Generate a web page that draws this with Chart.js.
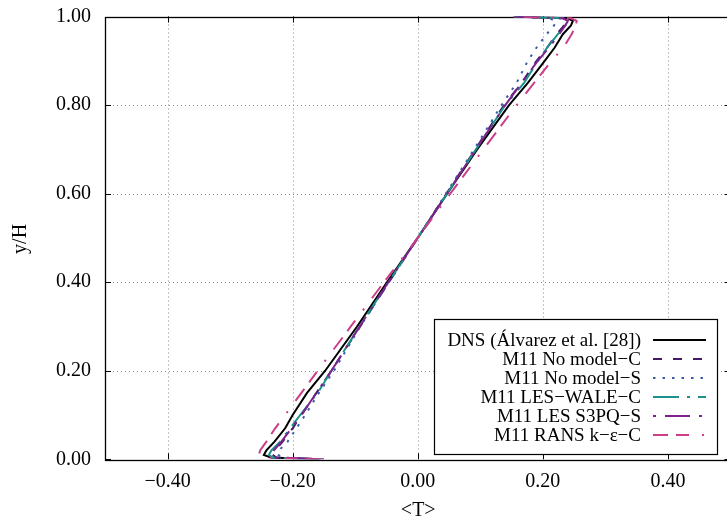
<!DOCTYPE html>
<html>
<head>
<meta charset="utf-8">
<script src="https://cdn.jsdelivr.net/npm/chart.js@4/dist/chart.umd.min.js"></script>
<style>
html,body{margin:0;padding:0;background:#fff;overflow:hidden;}
#wrap{position:relative;width:745px;height:523px;}
</style>
</head>
<body>
<div id="wrap"><canvas id="c" width="745" height="523"></canvas></div>
<script>
// ---- data ----
const yPos = [0, 0.004, 0.01, 0.02, 0.04, 0.07, 0.1, 0.15, 0.2, 0.3, 0.4, 0.5, 0.6, 0.7, 0.8, 0.85, 0.9, 0.93, 0.96, 0.98, 0.99, 0.996, 1.0];
const tDNS      = [-0.160,-0.235,-0.246,-0.242,-0.229,-0.212,-0.200,-0.177,-0.148,-0.097,-0.049,0.000,0.047,0.095,0.146,0.176,0.203,0.219,0.232,0.245,0.248,0.240,0.155];
const tNoModelC = [-0.155,-0.226,-0.232,-0.228,-0.216,-0.200,-0.186,-0.162,-0.138,-0.092,-0.046,0.000,0.046,0.092,0.138,0.166,0.190,0.207,0.222,0.234,0.238,0.232,0.155];
const tNoModelS = [-0.160,-0.215,-0.224,-0.222,-0.208,-0.194,-0.180,-0.158,-0.134,-0.092,-0.046,0.000,0.045,0.090,0.134,0.158,0.176,0.190,0.206,0.218,0.221,0.210,0.160];
const tWALE     = [-0.155,-0.232,-0.238,-0.234,-0.220,-0.204,-0.188,-0.160,-0.138,-0.093,-0.047,0.000,0.047,0.093,0.140,0.170,0.192,0.207,0.224,0.236,0.240,0.235,0.155];
const tS3PQ     = [-0.150,-0.228,-0.234,-0.230,-0.218,-0.202,-0.186,-0.162,-0.138,-0.093,-0.047,0.000,0.047,0.093,0.140,0.166,0.192,0.210,0.226,0.236,0.240,0.232,0.150];
const tRANS     = [-0.155,-0.245,-0.254,-0.252,-0.242,-0.228,-0.212,-0.186,-0.160,-0.107,-0.054,0.000,0.052,0.105,0.158,0.186,0.214,0.233,0.246,0.253,0.254,0.245,0.155];
const seriesLabels = ['DNS (Álvarez et al. [28])','M11 No model\u2212C','M11 No model\u2212S','M11 LES\u2212WALE\u2212C','M11 LES S3PQ\u2212S','M11 RANS k\u2212\u03b5\u2212C'];
const xTickVals = [-0.4, -0.2, 0.0, 0.2, 0.4];
const yTickVals = [0, 0.2, 0.4, 0.6, 0.8, 1.0];
const xTitle = '<T>';
const yTitle = 'y/H';

const FONT = '"Liberation Serif", "Times New Roman", serif';
const toPts = arr => arr.map((t, i) => ({x: t, y: yPos[i]}));
const fmt = v => { const s = Math.abs(v).toFixed(2); return (v < -1e-9 ? '\u2212' : '') + s; };

const styles = [
  {c:'#000000', d:[], w:2},
  {c:'#431a66', d:[9,11], w:2},
  {c:'#3d5aa6', d:[2.5,7], w:2},
  {c:'#1d918b', d:[26,8,3,8], w:2},
  {c:'#7e2290', d:[3,9,25,9], w:2},
  {c:'#cc3f88', d:[15,8,13,13,2,13], w:2},
];
const allT = [tDNS, tNoModelC, tNoModelS, tWALE, tS3PQ, tRANS];
const datasets = allT.map((arr, i) => ({
  label: seriesLabels[i],
  data: toPts(arr),
  borderColor: styles[i].c,
  backgroundColor: styles[i].c,
  borderDash: styles[i].d,
  borderWidth: styles[i].w,
  pointRadius: 0,
  showLine: true,
  tension: 0,
  fill: false,
  order: 10 - i
}));

const decor = {
  id: 'decor',
  beforeDatasetsDraw(chart) {
    const {ctx, chartArea: a, scales: {x, y}} = chart;
    ctx.save();
    // dotted grid
    ctx.strokeStyle = '#8a8a8a'; ctx.lineWidth = 1; ctx.setLineDash([1, 3]);
    xTickVals.forEach(v => { const px = Math.round(x.getPixelForValue(v)) + 0.5; ctx.beginPath(); ctx.moveTo(px, a.top); ctx.lineTo(px, a.bottom); ctx.stroke(); });
    yTickVals.forEach(v => { if (v <= 0 || v >= 1) return; const py = Math.round(y.getPixelForValue(v)) + 0.5; ctx.beginPath(); ctx.moveTo(a.left, py); ctx.lineTo(a.right, py); ctx.stroke(); });
    ctx.setLineDash([]);
    // inner tick marks, all four sides
    ctx.strokeStyle = '#000'; ctx.lineWidth = 1;
    const tl = 6;
    xTickVals.forEach(v => { const px = Math.round(x.getPixelForValue(v)) + 0.5;
      ctx.beginPath(); ctx.moveTo(px, a.bottom); ctx.lineTo(px, a.bottom - tl); ctx.moveTo(px, a.top); ctx.lineTo(px, a.top + tl); ctx.stroke(); });
    yTickVals.forEach(v => { const py = Math.round(y.getPixelForValue(v)) + 0.5;
      ctx.beginPath(); ctx.moveTo(a.left, py); ctx.lineTo(a.left + tl, py); ctx.moveTo(a.right, py); ctx.lineTo(a.right - tl, py); ctx.stroke(); });
    // frame
    ctx.lineWidth = 1.3;
    ctx.strokeRect(Math.round(a.left) + 0.5, Math.round(a.top) + 0.5, Math.round(a.right - a.left), Math.round(a.bottom - a.top));
    ctx.restore();
  },
  afterDraw(chart) {
    const {ctx, chartArea: a} = chart;
    ctx.save();
    // axis titles
    ctx.fillStyle = '#000';
    ctx.font = '20px ' + FONT;
    ctx.textAlign = 'center'; ctx.textBaseline = 'middle';
    ctx.fillText(xTitle, (a.left + a.right) / 2 + 0.5, 511);
    ctx.translate(21, (a.top + a.bottom) / 2 + 1); ctx.rotate(-Math.PI / 2);
    ctx.fillText(yTitle, 0, 0);
    ctx.restore();
    // legend (text right-aligned, sample to the right)
    ctx.save();
    const bx = 434.5, by = 319.5, bw = 283, bh = 135;
    ctx.fillStyle = '#fff'; ctx.fillRect(bx, by, bw, bh);
    ctx.strokeStyle = '#000'; ctx.lineWidth = 1.2; ctx.strokeRect(bx, by, bw, bh);
    ctx.font = '19px ' + FONT; ctx.textAlign = 'right'; ctx.textBaseline = 'middle';
    chart.data.datasets.forEach((ds, i) => {
      const cy = 340 + i * 19;
      ctx.fillStyle = '#000';
      ctx.fillText(ds.label, 641, cy + 1);
      ctx.strokeStyle = ds.borderColor; ctx.lineWidth = ds.borderWidth; ctx.setLineDash(ds.borderDash);
      ctx.beginPath(); ctx.moveTo(653, cy); ctx.lineTo(706, cy); ctx.stroke();
      ctx.setLineDash([]);
    });
    ctx.restore();
  }
};

new Chart(document.getElementById('c'), {
  type: 'line',
  data: { datasets },
  options: {
    responsive: false,
    animation: false,
    parsing: true,
    layout: { padding: { left: 0, top: 16.5, right: 14.5, bottom: 0 } },
    plugins: { legend: { display: false }, tooltip: { enabled: false } },
    scales: {
      x: {
        type: 'linear', min: -0.5, max: 0.5,
        afterBuildTicks: s => { s.ticks = xTickVals.map(v => ({value: v})); },
        afterFit: s => { s.height = 63.7; s.paddingLeft = 0; s.paddingRight = 0; },
        grid: { display: false, drawTicks: false, tickLength: 0 },
        border: { display: false },
        ticks: { color: '#000', font: { family: FONT, size: 20 }, padding: 10, maxRotation: 0, autoSkip: false, callback: v => fmt(v) }
      },
      y: {
        type: 'linear', min: 0, max: 1,
        afterBuildTicks: s => { s.ticks = yTickVals.map(v => ({value: v})); },
        afterFit: s => { s.width = 105; s.paddingTop = 0; s.paddingBottom = 0; },
        grid: { display: false, drawTicks: false, tickLength: 0 },
        border: { display: false },
        ticks: { color: '#000', font: { family: FONT, size: 20 }, padding: 14, autoSkip: false, callback: v => fmt(v) }
      }
    }
  },
  plugins: [decor]
});
</script>
</body>
</html>
